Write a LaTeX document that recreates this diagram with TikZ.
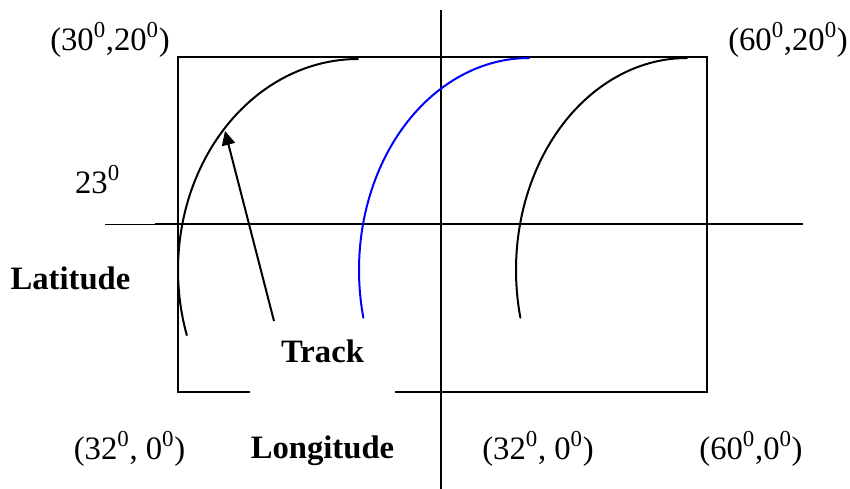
\documentclass[tikz,border=0pt]{standalone}
\usepackage{fontspec}
\setmainfont{Liberation Serif}
\usetikzlibrary{arrows.meta}
\newcommand{\supz}{\textsuperscript{0}}
\begin{document}
\begin{tikzpicture}[x=0.75pt,y=-0.75pt,
	lbl/.style={inner sep=0pt,anchor=base,font=\fontsize{24.5}{29}\selectfont},
	blbl/.style={lbl,font=\fontsize{24.5}{29}\selectfont\bfseries},
	frame/.style={line width=1.5pt},
	trackline/.style={line width=1.5pt,line cap=round},
	pointer/.style={line width=1.5pt,-{Triangle[length=10.5pt,width=10pt]}}]
		\useasboundingbox (0,0) rectangle (850,489);
		% axes
		\draw[line width=0.75pt] (105,224) -- (155,224);
		\draw[frame] (155,224) -- (803,224);
		\draw[frame] (441,10) -- (441,489);
		% frame with gap at the bottom
		\draw[frame] (250,392) -- (178,392) -- (178,57) -- (707,57) -- (707,392) -- (395,392);
		% tracks
		\draw[trackline] (358,59) arc[start angle=270,end angle=162,x radius=180,y radius=211];
		\draw[trackline,blue] (529,58) arc[start angle=270,end angle=167,x radius=170,y radius=212];
		\draw[trackline] (687,58) arc[start angle=270,end angle=167,x radius=171,y radius=212];
		% labels
		\node[lbl] (tl) at (110,50) {(30\supz,20\supz)};
		\node[lbl] (tr) at (788,50) {(60\supz,20\supz)};
		\node[lbl] (lat) at (97.5,193) {23\supz};
		\node[blbl] (latitude) at (70.5,289) {Latitude};
		\node[blbl] (track) at (322.5,362) {Track};
		\node[lbl] (bl) at (129.5,459) {(32\supz, 0\supz)};
		\node[blbl] (longitude) at (322.5,458) {Longitude};
		\node[lbl] (bm) at (538,459) {(32\supz, 0\supz)};
		\node[lbl] (br) at (751,459) {(60\supz,0\supz)};
		% pointer to the track
		\coordinate (tracktail) at (274,321);
		\coordinate (tracktip) at (225,131);
		\draw[pointer] (tracktail) -- (tracktip);
\end{tikzpicture}
\end{document}
